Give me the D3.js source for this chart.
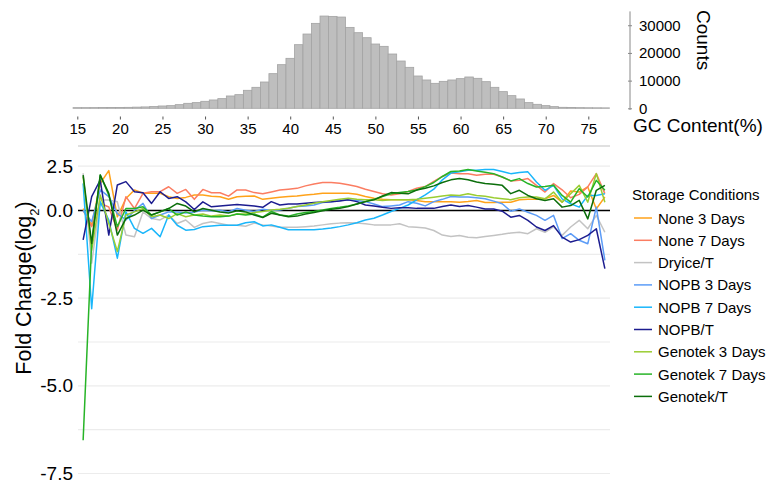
<!DOCTYPE html>
<html>
<head>
<meta charset="utf-8">
<script src="https://cdn.jsdelivr.net/npm/d3@7"></script>
<style>
  html, body { margin: 0; padding: 0; background: #fff; }
  svg { display: block; font-family: "Liberation Sans", Arial, sans-serif; }
</style>
</head>
<body>
<div id="chart"></div>
<script>
// GC content histogram (top panel)
const gcBins = [15, 16, 17, 18, 19, 20, 21, 22, 23, 24, 25, 26, 27, 28, 29, 30, 31, 32, 33, 34, 35, 36, 37, 38, 39, 40, 41, 42, 43, 44, 45, 46,
  47, 48, 49, 50, 51, 52, 53, 54, 55, 56, 57, 58, 59, 60, 61, 62, 63, 64, 65, 66, 67, 68, 69, 70, 71, 72, 73, 74, 75, 76, 77];
const gcCounts = [240, 240, 250, 260, 300, 320, 350, 420, 500, 650, 840, 960, 1320, 1800, 2050, 2530, 3010, 3490, 4450, 4930,
  6500, 7580, 9500, 12510, 15760, 18050, 22980, 26830, 30680, 33320, 33200, 32960, 29230, 27310, 25500, 23220, 22380, 19610,
  17080, 14800, 11670, 10230, 9020, 9740, 10230, 10710, 11310, 10830, 9620, 7580, 6020, 4570, 3370, 2050, 1440, 960, 600,
  360, 300, 240, 200, 180, 160];
const countTicks = [0, 10000, 20000, 30000];
const gcTicks = [15, 20, 25, 30, 35, 40, 45, 50, 55, 60, 65, 70, 75];

// Fold change per GC content (bottom panel)
const gcPoints = [16, 17, 18, 19, 20, 21, 22, 23, 24, 25, 26, 27, 28, 29, 30, 31, 32, 33, 34, 35, 36, 37, 38, 39, 40, 41, 42, 43,
  44, 45, 46, 47, 48, 49, 50, 51, 52, 53, 54, 55, 56, 57, 58, 59, 60, 61, 62, 63, 64, 65, 66, 67, 68, 69, 70, 71, 72, 73, 74, 75, 76, 77];
const conditions = ["None 3 Days", "None 7 Days", "Dryice/T", "NOPB 3 Days", "NOPB 7 Days", "NOPB/T",
  "Genotek 3 Days", "Genotek 7 Days", "Genotek/T"];
const colors = ["#ffa21a", "#fb7d62", "#c3c3c3", "#5c9cf7", "#19b6fb", "#1c1c8f", "#9acd32", "#27b427", "#0b6e0b"];

const none3 = [0.11, -0.42, 1.53, 2.25, -0.18, 0.68, 1.16, 0.97, 0.97, 0.97, 0.78, 0.68, 0.74, 0.87, 0.87, 0.81, 0.78, 0.63, 0.78, 0.81,
  0.82, 0.63, 0.69, 0.75, 0.79, 0.82, 0.88, 0.92, 0.98, 0.98, 0.98, 0.98, 0.92, 0.79, 0.69, 0.63, 0.6, 0.6, 0.6, 0.56, 0.5, 0.5, 0.5, 0.5,
  0.47, 0.51, 0.57, 0.45, 0.45, 0.47, 0.47, 0.61, 0.64, 0.64, 0.66, 0.85, 0.47, 1.1, 1.04, 1.33, 0.09, 0.76];
const none7 = [0, -0.46, 0.4, 0.2, -0.56, 0.78, 0.11, 0.97, 1.06, 1.06, 1.34, 0.97, 1.19, 0.63, 1.19, 1.0, 1.0, 0.81, 1.16, 1.16,
  1.01, 0.94, 1.05, 1.16, 1.2, 1.25, 1.39, 1.5, 1.58, 1.58, 1.54, 1.45, 1.35, 1.2, 1.07, 0.94, 0.88, 0.94, 1.07, 1.26, 1.35, 1.64, 1.92, 2.11,
  2.08, 2.08, 1.99, 2.05, 2.05, 1.89, 1.67, 1.7, 1.8, 1.42, 1.04, 1.52, 1.17, 0.72, 0.91, 1.33, 2.08, 0.95];
const dryice = [2.1, -1.5, 0.59, 0.59, 0.49, -0.7, -0.75, -0.04, -0.23, -0.27, -0.13, -0.37, -0.27, -0.48, -0.37, -0.32, -0.37, -0.42, -0.42, -0.45,
  -0.36, -0.41, -0.44, -0.48, -0.48, -0.48, -0.46, -0.44, -0.41, -0.38, -0.36, -0.35, -0.36, -0.38, -0.41, -0.41, -0.41, -0.38, -0.46, -0.48, -0.5, -0.57, -0.7, -0.74,
  -0.71, -0.76, -0.78, -0.74, -0.71, -0.68, -0.64, -0.62, -0.66, -0.52, -0.62, -0.47, -0.71, -0.47, -0.28, -0.52, -0.14, -0.62];
const nopb3 = [0, -0.32, 1.16, 0.78, -0.09, -0.27, 0, 0.4, -0.23, -0.13, -0.04, -0.04, -0.07, -0.04, 0.02, -0.01, 0.02, -0.04, 0.11, 0.02,
  -0.03, 0.07, 0, 0.03, 0.13, 0.22, 0.26, 0.31, 0.45, 0.5, 0.56, 0.6, 0.56, 0.5, 0.37, 0.22, 0.26, 0.31, 0.5, 0.41, 0.26, 0.5, 0.63, 0.79,
  0.76, 0.76, 0.72, 0.66, 0.53, 0.38, -0.02, 0.09, -0.05, -0.14, -0.28, -0.14, -0.8, -0.66, -0.85, -0.95, 0.19, -1.42];
const nopb7 = [1.53, -2.8, 0.49, -0.27, -1.36, -0.04, -0.51, -0.65, -0.51, -0.75, -0.13, -0.42, -0.56, -0.54, -0.46, -0.44, -0.42, -0.42, -0.42, -0.35,
  -0.32, -0.44, -0.41, -0.48, -0.55, -0.55, -0.55, -0.55, -0.53, -0.5, -0.46, -0.41, -0.35, -0.27, -0.22, -0.13, -0.03, 0.12, 0.31, 0.6, 0.88, 1.2, 1.73, 2.11,
  2.18, 2.27, 2.27, 2.31, 2.31, 2.2, 2.08, 2.14, 2.18, 1.61, 1.14, 1.42, 0.66, 0.38, 0.19, 0.85, 0.85, 0.95];
const nopbT = [-0.84, 0.78, 1.72, -0.7, 1.44, 1.63, 1.06, 1.0, 0.4, 1.06, 0.68, 0.78, 0.49, 0.06, 0.49, 0.21, 0.25, 0.3, 0.34, 0.3,
  0.26, 0.18, 0.5, 0.31, 0.37, 0.37, 0.41, 0.45, 0.48, 0.5, 0.54, 0.6, 0.5, 0.31, 0.26, 0.18, 0.12, 0.16, 0.16, 0.12, 0.12, 0.12, 0.22, 0.31,
  0.23, 0.28, 0.19, 0.09, 0.09, -0.02, -0.19, -0.14, -0.28, -0.47, -0.57, -0.43, -0.76, -0.9, -0.83, -0.71, -0.52, -1.66];
const genotek3 = [1.91, -1.13, 0.87, -0.37, -1.17, -0.13, -0.04, 0.11, -0.18, -0.13, -0.23, -0.09, -0.18, -0.13, -0.1, -0.16, -0.13, -0.16, -0.1, -0.1,
  -0.06, -0.03, 0.03, 0.07, 0.13, 0.22, 0.31, 0.41, 0.5, 0.56, 0.63, 0.69, 0.63, 0.6, 0.6, 0.56, 0.6, 0.6, 0.6, 0.63, 0.69, 0.75, 0.82, 0.88,
  0.85, 0.95, 0.85, 0.8, 0.72, 0.66, 0.61, 0.72, 0.76, 0.76, 0.66, 1.04, 0.47, 0.95, 1.42, 0.47, 2.08, 0.47];
const genotek7 = [-6.55, -0.9, 2.0, 0.87, -0.46, 0.11, 0.11, 0.21, -0.13, -0.04, 0.11, -0.13, -0.04, -0.13, -0.16, -0.18, -0.18, -0.16, -0.1, -0.13,
  -0.1, -0.19, -0.03, -0.13, -0.16, -0.1, -0.06, -0.03, 0.03, 0.12, 0.18, 0.26, 0.37, 0.5, 0.63, 0.79, 0.94, 1.01, 1.07, 1.16, 1.35, 1.58, 1.92, 2.2,
  2.23, 2.31, 2.23, 2.16, 2.08, 1.89, 1.67, 1.8, 1.52, 1.33, 1.36, 1.42, 0.85, 0.47, 1.23, 0.76, 1.7, 1.14];
const genotekT = [2.0, -0.94, 2.0, 0.97, -0.7, -0.23, -0.13, 0.02, -0.13, -0.04, 0.11, 0.4, 0.25, -0.04, 0.11, 0.02, -0.04, -0.07, -0.01, -0.04,
  -0.13, -0.2, -0.08, -0.13, -0.18, -0.16, -0.1, -0.06, -0.01, 0.07, 0.12, 0.22, 0.37, 0.5, 0.6, 0.82, 1.01, 0.98, 0.94, 1.16, 1.26, 1.39, 1.58, 1.73,
  1.8, 1.74, 1.61, 1.52, 1.48, 1.42, 0.95, 1.14, 0.85, 0.66, 0.57, 0.66, 0.19, 0.28, 0.57, -0.24, 1.14, 1.42];
const seriesValues = [none3, none7, dryice, nopb3, nopb7, nopbT, genotek3, genotek7, genotekT];
const foldTicks = [2.5, 0, -2.5, -5, -7.5];
const foldGrid = [2.5, -1.25, -2.5, -3.75, -5, -6.25, -7.5];

const width = 772;
const height = 484;
const font = '"Liberation Sans", Arial, sans-serif';

const svg = d3.select("#chart")
  .append("svg")
  .attr("width", width)
  .attr("height", height)
  .attr("viewBox", [0, 0, width, height]);

// ---- histogram ----
const xH = d3.scaleLinear().domain([15, 75]).range([77.3, 588.3]);
const yH = d3.scaleLinear().domain([0, 35000]).range([108.3, 11.4]);

svg.append("g")
  .selectAll("rect")
  .data(gcBins)
  .join("rect")
  .attr("x", (d) => xH(d - 0.5))
  .attr("width", (d) => xH(d + 0.5) - xH(d - 0.5))
  .attr("y", (d, i) => yH(gcCounts[i]))
  .attr("height", (d, i) => yH(0) - yH(gcCounts[i]))
  .attr("fill", "#bebebe")
  .attr("stroke", "#a3a3a3")
  .attr("stroke-width", 0.8);

// x axis of histogram
svg.append("g")
  .attr("transform", "translate(0,116.5)")
  .call(d3.axisBottom(xH).tickValues(gcTicks).tickSize(3).tickPadding(4))
  .call((g) => g.select(".domain").remove())
  .call((g) => g.selectAll(".tick line").attr("stroke", "#555"))
  .selectAll("text")
  .attr("fill", "#000")
  .style("font-family", font)
  .style("font-size", "15px");

// counts axis on the right
svg.append("g")
  .attr("transform", "translate(630,0)")
  .call(d3.axisRight(yH).tickValues(countTicks).tickSize(2).tickPadding(7).tickFormat(d3.format("d")))
  .call((g) => g.select(".domain").attr("stroke", "#888").attr("d", "M0,11.4V110"))
  .call((g) => g.selectAll(".tick line").attr("stroke", "#888").attr("x1", -2))
  .selectAll("text")
  .attr("fill", "#000")
  .style("font-family", font)
  .style("font-size", "15px");

svg.append("text")
  .attr("transform", "translate(697,10) rotate(90)")
  .style("font-family", font)
  .style("font-size", "19px")
  .text("Counts");

svg.append("text")
  .attr("x", 633)
  .attr("y", 132)
  .style("font-family", font)
  .style("font-size", "19px")
  .text("GC Content(%)");

// ---- fold change lines ----
const xL = d3.scaleLinear().domain([15.4, 77.6]).range([78, 610]);
const yL = d3.scaleLinear().domain([-7.5, 0, 3.64]).range([473.5, 210.5, 146]);

const grid = svg.append("g");
grid.selectAll("line")
  .data(foldGrid)
  .join("line")
  .attr("x1", xL.range()[0])
  .attr("x2", xL.range()[1])
  .attr("y1", (d) => yL(d))
  .attr("y2", (d) => yL(d))
  .attr("stroke", "#ececec")
  .attr("stroke-width", 1.2);

grid.append("line")
  .attr("x1", xL.range()[0])
  .attr("x2", xL.range()[1])
  .attr("y1", yL(3.64))
  .attr("y2", yL(3.64))
  .attr("stroke", "#d6d6d6")
  .attr("stroke-width", 1.6);

grid.append("line")
  .attr("x1", xL.range()[0])
  .attr("x2", xL.range()[1])
  .attr("y1", yL(0))
  .attr("y2", yL(0))
  .attr("stroke", "#000")
  .attr("stroke-width", 1.5);

const fmt = d3.format(".1f");
svg.append("g")
  .attr("transform", "translate(73,0)")
  .call(d3.axisLeft(yL).tickValues(foldTicks).tickSize(0).tickPadding(0).tickFormat((d) => fmt(d).replace("\u2212", "-")))
  .call((g) => g.select(".domain").remove())
  .selectAll("text")
  .attr("fill", "#000")
  .style("font-family", font)
  .style("font-size", "19px");

const yTitle = svg.append("text")
  .attr("transform", "translate(30.5,288) rotate(-90)")
  .attr("text-anchor", "middle")
  .style("font-family", font)
  .style("font-size", "21.5px");
yTitle.append("tspan").text("Fold Change(log");
yTitle.append("tspan").attr("baseline-shift", "sub").style("font-size", "13px").text("2");
yTitle.append("tspan").text(")");

const line = d3.line()
  .x((d, i) => xL(gcPoints[i]))
  .y((d) => yL(d));

svg.append("g")
  .selectAll("path")
  .data(seriesValues)
  .join("path")
  .attr("fill", "none")
  .attr("stroke", (d, i) => colors[i])
  .attr("stroke-width", 1.5)
  .attr("stroke-linejoin", "round")
  .attr("d", line);

// ---- legend ----
const legend = svg.append("g").attr("transform", "translate(632,0)");

legend.append("text")
  .attr("x", 0)
  .attr("y", 200)
  .style("font-family", font)
  .style("font-size", "15px")
  .text("Storage Conditions");

const item = legend.selectAll("g.item")
  .data(conditions)
  .join("g")
  .attr("class", "item")
  .attr("transform", (d, i) => `translate(0,${223.5 + i * 22.3})`);

item.append("line")
  .attr("x1", 2)
  .attr("x2", 20)
  .attr("y1", -5.5)
  .attr("y2", -5.5)
  .attr("stroke", (d, i) => colors[i])
  .attr("stroke-width", 1.5);

item.append("text")
  .attr("x", 26)
  .attr("y", 0)
  .style("font-family", font)
  .style("font-size", "15px")
  .text((d) => d);
</script>
</body>
</html>
